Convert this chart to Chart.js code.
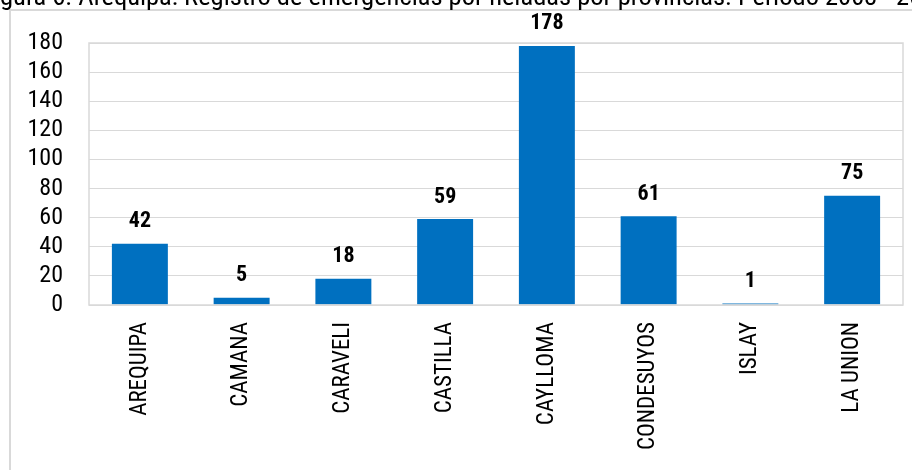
<!DOCTYPE html>
<html>
<head>
<meta charset="utf-8">
<script src="https://cdn.jsdelivr.net/npm/chart.js@4/dist/chart.umd.min.js"></script>
<style>
  html, body { margin: 0; padding: 0; background: #fff; }
  #wrap { position: relative; width: 912px; height: 470px; overflow: hidden; background: #fff; }
  #frame { position: absolute; left: 9px; top: 9px; width: 920px; height: 480px;
           border-left: 2px solid #d9d9d9; border-top: 2px solid #d9d9d9; box-sizing: border-box; }
  canvas { position: absolute; left: 0; top: 0; }
</style>
</head>
<body>
<div id="wrap">
  <div id="frame"></div>
  <canvas id="c" width="912" height="470"></canvas>
</div>
<script>
const TITLE = "Figura 6. Arequipa: Registro de emergencias por heladas por provincias. Periodo 2003 - 2022";
const categories = ["AREQUIPA", "CAMANA", "CARAVELI", "CASTILLA", "CAYLLOMA", "CONDESUYOS", "ISLAY", "LA UNION"];
const emergencias = [42, 5, 18, 59, 178, 61, 1, 75];
const yTicks = [0, 20, 40, 60, 80, 100, 120, 140, 160, 180];

const FONT = "'Roboto Condensed', 'Liberation Sans Narrow', 'DejaVu Sans Condensed', 'Arial Narrow', Roboto, sans-serif";

const extras = {
  id: 'extras',
  beforeDraw(chart) {
    const ctx = chart.ctx;
    ctx.save();
    ctx.font = "26.5px " + FONT;
    ctx.fillStyle = "#000";
    ctx.textBaseline = "alphabetic";
    ctx.textAlign = "left";
    const off = ctx.measureText("Fi").width;
    ctx.fillText(TITLE, -off, 5);
    ctx.restore();
  },
  afterDatasetsDraw(chart) {
    const ctx = chart.ctx;
    const a = chart.chartArea;
    ctx.save();
    ctx.strokeStyle = "#d9d9d9";
    ctx.lineWidth = 1.5;
    ctx.strokeRect(a.left, a.top, a.right - a.left, a.bottom - a.top);
    ctx.font = "bold 22px " + FONT;
    ctx.fillStyle = "#000";
    ctx.textAlign = "center";
    ctx.textBaseline = "middle";
    const meta = chart.getDatasetMeta(0);
    meta.data.forEach((bar, i) => {
      ctx.fillText(String(chart.data.datasets[0].data[i]), bar.x, bar.y - 22);
    });
    ctx.restore();
  }
};

new Chart(document.getElementById('c'), {
  type: 'bar',
  data: {
    labels: categories,
    datasets: [{
      data: emergencias,
      backgroundColor: '#0070C0',
      borderWidth: 0,
      categoryPercentage: 1,
      barPercentage: 0.55
    }]
  },
  options: {
    responsive: false,
    animation: false,
    devicePixelRatio: 1,
    layout: { padding: { left: 0, right: 9, top: 43, bottom: 0 } },
    plugins: { legend: { display: false }, tooltip: { enabled: false }, title: { display: false } },
    scales: {
      x: {
        grid: { display: false, drawTicks: false },
        border: { display: false },
        ticks: {
          color: '#000', minRotation: 90, maxRotation: 90, padding: 17, autoSkip: false,
          font: { family: FONT, size: 23 }
        },
        afterFit(scale) { scale.height = 165; }
      },
      y: {
        min: 0, max: 180,
        grid: { color: '#d9d9d9', lineWidth: 1, drawTicks: false },
        border: { display: false },
        afterBuildTicks(scale) { scale.ticks = yTicks.map(v => ({ value: v })); },
        ticks: {
          color: '#000', padding: 26, autoSkip: false,
          font: { family: FONT, size: 24 }
        },
        afterFit(scale) { scale.width = 89; }
      }
    }
  },
  plugins: [extras]
});
</script>
</body>
</html>
